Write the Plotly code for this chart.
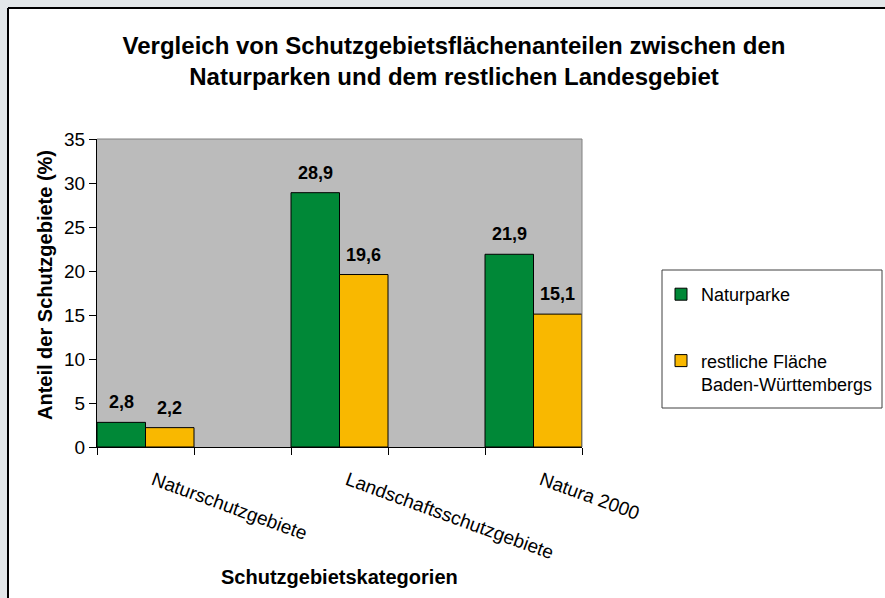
import plotly.graph_objects as go

categories = ["Naturschutzgebiete", "Landschaftsschutzgebiete", "Natura 2000"]
series_names = ["Naturparke", "restliche Fläche<br>Baden-Württembergs"]
naturparke = [2.8, 28.9, 21.9]
restliche = [2.2, 19.6, 15.1]
colors = ["#008837", "#F9B800"]
y_ticks = [0, 5, 10, 15, 20, 25, 30, 35]

W, H = 885, 598
L, R, T, B = 97, 303, 139, 151
PW, PH = W - L - R, H - T - B

def px_x(p):
    return (p - L) / PW

def px_y(p):
    return (H - B - p) / PH

FONT = "Liberation Sans, Arial, sans-serif"
xs = list(range(len(categories)))
X_RANGE = [-0.25, len(categories) - 0.75]
BARGAP = 0.5
unit_px = PW / (X_RANGE[1] - X_RANGE[0])
LABEL_SHIFT = 8 / unit_px  # category labels start slightly right of group centre

fig = go.Figure()
for i, (name, vals) in enumerate([(series_names[0], naturparke), (series_names[1], restliche)]):
    fig.add_trace(go.Bar(
        x=xs, y=vals, name=name,
        marker=dict(color=colors[i], line=dict(color="black", width=1)),
        legendgroup=f"g{i}",
    ))

annotations = []
half_bar = unit_px * (1 - BARGAP) / 2 / 2  # half width of one bar in px
for i, vals in enumerate([naturparke, restliche]):
    sh = -half_bar if i == 0 else half_bar
    for x, v in zip(xs, vals):
        annotations.append(dict(
            x=x, y=v, xref="x", yref="y", text=f"{v:.1f}".replace(".", ","),
            showarrow=False, xshift=sh, yshift=20, yanchor="middle",
            font=dict(family=FONT, size=18, color="black", weight="bold"),
        ))

annotations.append(dict(
    x=px_x(45), y=px_y(285), xref="paper", yref="paper",
    text="<b>Anteil der Schutzgebiete (%)</b>", textangle=-90, showarrow=False,
    font=dict(family=FONT, size=20, color="black"), xanchor="center", yanchor="middle",
))
annotations.append(dict(
    x=px_x(339), y=px_y(577), xref="paper", yref="paper",
    text="<b>Schutzgebietskategorien</b>", showarrow=False,
    font=dict(family=FONT, size=20, color="black"), xanchor="center", yanchor="middle",
))

OUTER = "#E3E7E9"
shapes = [
    # outer background strips (left and top) outside the chart frame
    dict(type="rect", xref="paper", yref="paper", layer="below",
         x0=px_x(-5), x1=px_x(8), y0=px_y(H + 5), y1=px_y(-5),
         fillcolor=OUTER, line=dict(width=0)),
    dict(type="rect", xref="paper", yref="paper", layer="below",
         x0=px_x(-5), x1=px_x(W + 5), y0=px_y(8), y1=px_y(-5),
         fillcolor=OUTER, line=dict(width=0)),
    # chart frame lines
    dict(type="line", xref="paper", yref="paper", layer="below",
         x0=px_x(8), x1=px_x(8), y0=px_y(8), y1=px_y(H + 5),
         line=dict(color="black", width=2)),
    dict(type="line", xref="paper", yref="paper", layer="below",
         x0=px_x(8), x1=px_x(W + 5), y0=px_y(8), y1=px_y(8),
         line=dict(color="black", width=2)),
    # plot area border top & right
    dict(type="line", xref="x domain", yref="y domain", x0=0, x1=1, y0=1, y1=1,
         line=dict(color="#808080", width=1)),
    dict(type="line", xref="x domain", yref="y domain", x0=1, x1=1, y0=0, y1=1,
         line=dict(color="#808080", width=1)),
    # legend box
    dict(type="rect", xref="paper", yref="paper",
         x0=px_x(662), x1=px_x(882), y0=px_y(408), y1=px_y(270),
         fillcolor="rgba(0,0,0,0)", line=dict(color="#404040", width=1)),
]

fig.update_layout(
    width=W, height=H,
    margin=dict(l=L, r=R, t=T, b=B, autoexpand=False),
    paper_bgcolor="white",
    plot_bgcolor="#BBBBBB",
    barmode="group", bargap=BARGAP, bargroupgap=0,
    font=dict(family=FONT, size=18, color="black"),
    title=dict(
        text="<b>Vergleich von Schutzgebietsflächenanteilen zwischen den<br>Naturparken und dem restlichen Landesgebiet</b>",
        x=454 / W, xanchor="center", y=1 - 54 / H, yanchor="middle",
        font=dict(family=FONT, size=24, color="black", lineposition="none"),
    ),
    xaxis=dict(
        type="linear", range=X_RANGE,
        tickvals=[x + LABEL_SHIFT for x in xs], ticktext=categories, tickangle=20, ticks="",
        ticklabelstandoff=14,
        showline=True, linecolor="black", linewidth=1, showgrid=False, zeroline=False,
        minor=dict(tickmode="linear", tick0=X_RANGE[0], dtick=0.5, ticks="outside",
                   ticklen=7, tickcolor="black", tickwidth=1, showgrid=False),
        tickfont=dict(family=FONT, size=19, color="black"),
        fixedrange=True,
    ),
    yaxis=dict(
        range=[0, 35], tickvals=y_ticks, ticks="outside", ticklen=7, tickcolor="black",
        showline=True, linecolor="black", linewidth=1, showgrid=False, zeroline=False,
        tickfont=dict(family=FONT, size=19, color="black"),
        fixedrange=True,
    ),
    legend=dict(
        x=px_x(661), y=px_y(276), xanchor="left", yanchor="top",
        bgcolor="rgba(0,0,0,0)", borderwidth=0,
        traceorder="grouped", tracegroupgap=40, valign="top",
        font=dict(family=FONT, size=18, color="black"),
    ),
    annotations=annotations,
    shapes=shapes,
)

fig.write_html("out.html")
